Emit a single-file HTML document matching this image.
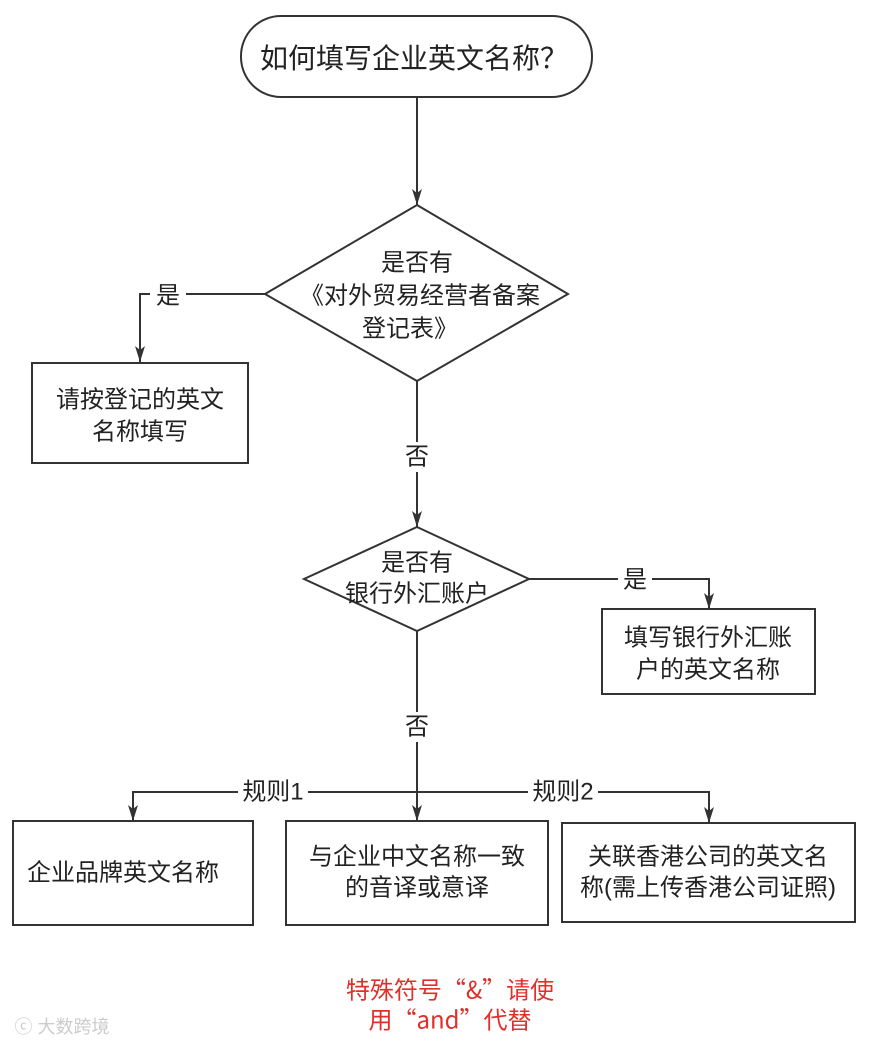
<!DOCTYPE html>
<html><head><meta charset="utf-8"><style>
html,body{margin:0;padding:0;background:#fff;}
svg{display:block;}
text{font-family:"Liberation Sans","Noto Sans CJK SC",sans-serif;fill:#222;text-anchor:middle;dominant-baseline:central;}
.c{font-family:"Noto Sans CJK SC",sans-serif;}
</style></head><body>
<svg width="873" height="1047" viewBox="0 0 873 1047" xmlns="http://www.w3.org/2000/svg">
<defs>
<marker id="d" markerWidth="12" markerHeight="16" refX="6" refY="16" orient="0" markerUnits="userSpaceOnUse"><path d="M1,0 L6,16 L11,0 L6,4 Z" fill="#333"/></marker></defs>
<g fill="none" stroke="#333" stroke-width="2">
<rect x="241" y="16" width="351" height="81" rx="40" fill="#fff"/>
<path d="M417 97 V205" marker-end="url(#d)"/>
<polygon points="417,205 568,294 417,381 265,294" fill="#fff"/>
<path d="M265 294 H140 V362" marker-end="url(#d)"/>
<rect x="32" y="363" width="216" height="100"/>
<path d="M417 381 V527" marker-end="url(#d)"/>
<polygon points="417,527 529,579 417,631 304,579" fill="#fff"/>
<path d="M529 579 H709 V609" marker-end="url(#d)"/>
<rect x="602" y="609" width="213" height="85"/>
<path d="M417 631 V821" marker-end="url(#d)"/>
<path d="M133 821 V792 H709 V823" marker-end="url(#d)"/>
<rect x="13" y="821" width="240" height="104"/>
<rect x="286" y="821" width="262" height="104"/>
<rect x="562" y="823" width="293" height="99"/>
</g>
<path d="M128 805 L133 821 L138 805 L133 809 Z" fill="#333"/>
<g font-size="28"><text x="414" y="57" class="c">如何填写企业英文名称？</text></g>
<g font-size="24">
<text x="417" y="263">是否有</text>
<text x="420" y="296">《对外贸易经营者备案</text>
<text x="410" y="329">登记表》</text>
<rect x="150" y="281" width="36" height="28" fill="#fff"/>
<text x="168" y="296">是</text>
<text x="140" y="400">请按登记的英文</text>
<text x="140" y="432">名称填写</text>
<rect x="400" y="442" width="34" height="30" fill="#fff"/>
<text x="417" y="457">否</text>
<text x="417" y="563">是否有</text>
<text x="417" y="594">银行外汇账户</text>
<rect x="618" y="566" width="34" height="28" fill="#fff"/>
<text x="635" y="580">是</text>
<text x="708" y="638">填写银行外汇账</text>
<text x="708" y="670">户的英文名称</text>
<rect x="400" y="712" width="34" height="30" fill="#fff"/>
<text x="417" y="727">否</text>
<rect x="238" y="777" width="70" height="30" fill="#fff"/>
<text x="273" y="792">规则1</text>
<rect x="528" y="777" width="70" height="30" fill="#fff"/>
<text x="563" y="792">规则2</text>
<text x="123" y="873">企业品牌英文名称</text>
<text x="417" y="857">与企业中文名称一致</text>
<text x="417" y="888">的音译或意译</text>
<text x="708" y="857">关联香港公司的英文名</text>
<text x="708" y="888">称(需上传香港公司证照)</text>
<text x="450" y="988" class="c" style="fill:#e0302a">特殊符号“&amp;”请使</text>
<text x="450" y="1018" class="c" style="fill:#e0302a">用“and”代替</text>
</g>
<text x="62" y="1027" font-size="18" style="fill:#ccc">ⓒ 大数跨境</text>
</svg>
</body></html>
